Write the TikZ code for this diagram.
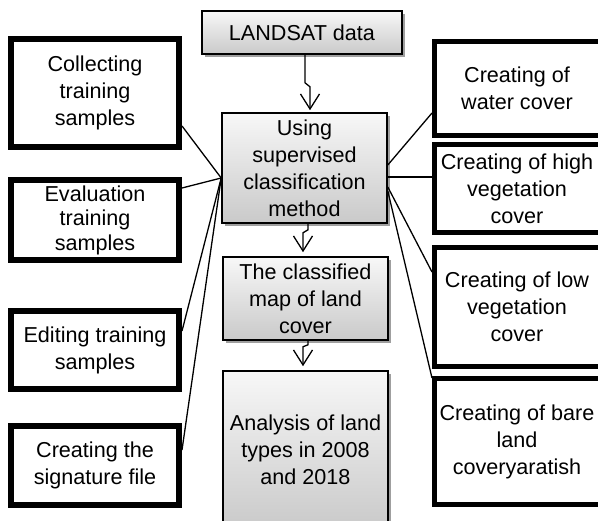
\documentclass[tikz,border=0pt]{standalone}
\usepackage{fontspec}
\setmainfont{Liberation Sans}
\usetikzlibrary{arrows.meta,shadows}

\begin{document}
\begin{tikzpicture}[x=1pt, y=-1pt,
  every node/.style={font=\fontsize{21.6}{27}\selectfont, align=center, inner sep=0pt},
  gbox/.style={draw, line width=1.6pt, top color=gray!6, bottom color=gray!42,
    drop shadow={shadow xshift=3pt, shadow yshift=-3pt, fill=gray!75, opacity=1}},
  lbox/.style={draw, line width=6pt, fill=white, minimum width=168pt},
  rbox/.style={draw, line width=5pt, fill=white, minimum width=169pt},
  link/.style={line width=1.3pt},
  line/.style={-{Straight Barb[length=15pt,width=19pt]}, line width=1.3pt}
]
\path[use as bounding box, fill=white] (0,0) rectangle (598,521);
\clip (0,0) rectangle (598,521);
% middle column
\node[gbox, minimum width=200pt, minimum height=43pt] (land) at (302,32.5) {LANDSAT data};
\node[gbox, minimum width=165pt, minimum height=110pt] (use) at (304.5,168) {Using\\supervised\\classification\\method};
\node[gbox, minimum width=165pt, minimum height=83pt] (cls) at (305.5,298.5) {The classified\\map of land\\cover};
\node[gbox, minimum width=165pt, minimum height=158pt] (ana) at (305.5,450) {Analysis of land\\types in 2008\\and 2018};
% left column
\node[lbox, minimum height=108pt] (coll) at (95,93) {Collecting\\training\\samples};
\node[lbox, minimum height=80pt, font=\fontsize{21.6}{24.5}\selectfont] (eval) at (95,220) {Evaluation\\training\\samples};
\node[lbox, minimum height=78pt] (edit) at (95,350) {Editing training\\samples};
\node[lbox, minimum height=79pt] (sig) at (95,465.5) {Creating the\\signature file};
% right column
\node[rbox, minimum height=94pt] (water) at (519,88.5) {\hspace{-4pt}Creating of\\\hspace{-4pt}water cover};
\node[rbox, minimum height=88pt] (high) at (519,188.5) {\hspace{-4pt}Creating of high\\\hspace{-4pt}vegetation\\\hspace{-4pt}cover};
\node[rbox, minimum height=119pt] (low) at (519,307) {\hspace{-4pt}Creating of low\\\hspace{-4pt}vegetation\\\hspace{-4pt}cover};
\node[rbox, minimum height=126pt] (bare) at (519,441.5) {\hspace{-4pt}Creating of bare\\\hspace{-4pt}land\\\hspace{-4pt}coveryaratish};
% links
\draw[link] ([yshift=-33pt]coll.east) -- ([yshift=-10pt]use.west);
\draw[link] ([yshift=32pt]eval.east) -- ([yshift=-10pt]use.west);
\draw[link] ([yshift=19pt]edit.east) -- ([yshift=-10pt]use.west);
\draw[link] ([yshift=15.5pt]sig.east) -- ([yshift=-10pt]use.west);
\draw[link] ([yshift=3pt]use.east) -- ([yshift=-24.5pt]water.west);
\draw[link] ([yshift=-9pt]use.east) -- ([yshift=11.5pt]high.west);
\draw[link] ([yshift=-19pt]use.east) -- ([yshift=35pt]low.west);
\draw[link] ([yshift=-23pt]use.east) -- ([yshift=-2pt]bare.north west);
% arrows
\draw[line] ([xshift=3pt]land.south) -- ++(0,28) -- ++(5,4) -- ([xshift=5.5pt, yshift=2pt]use.north);
\draw[line] ([xshift=3.5pt]use.south) -- ++(0,6) -- ++(-5,3) -- ([xshift=-2.5pt, yshift=4pt]cls.north);
\draw[line] ([xshift=2.5pt]cls.south) -- ++(0,4) -- ++(-5,2) -- ([xshift=-2.5pt, yshift=4pt]ana.north);
\end{tikzpicture}
\end{document}
